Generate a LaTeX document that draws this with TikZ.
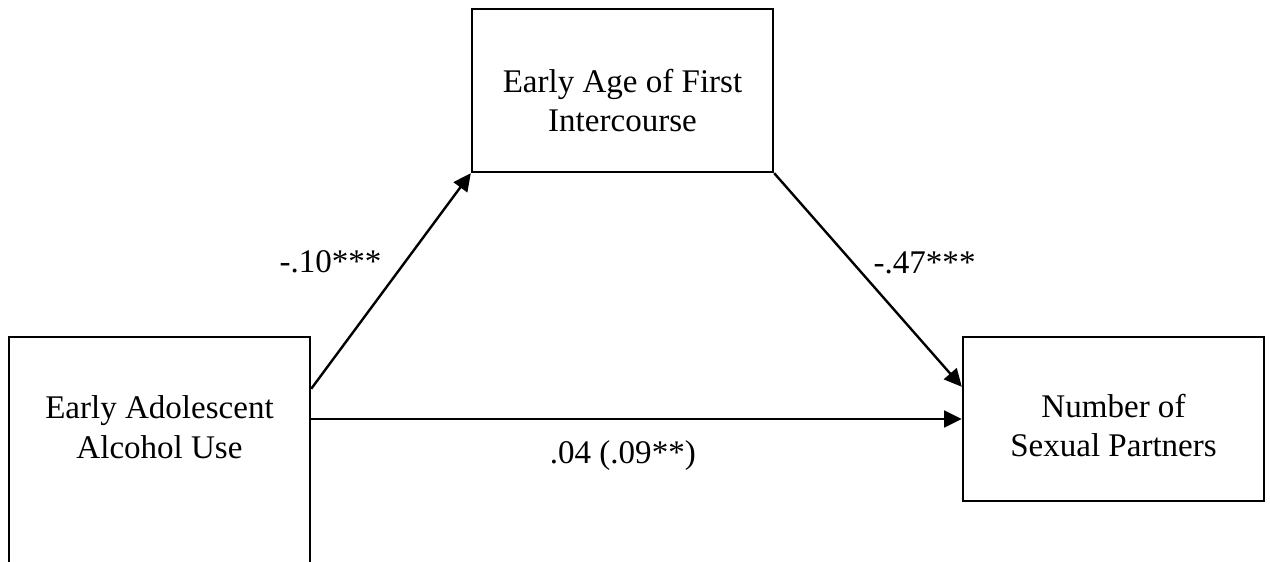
\documentclass[tikz,border=0pt]{standalone}
\usepackage{fontspec}
\setmainfont{Liberation Serif}
\usetikzlibrary{arrows.meta,positioning}

\begin{document}
\begin{tikzpicture}[
    varbox/.style={draw, line width=1.7pt, minimum width=7.525cm, align=center, font=\fontsize{23.5}{28}\selectfont},
    effect/.style={-{Triangle[length=0.44cm, width=0.42cm]}, line width=1.7pt},
    coef/.style={font=\fontsize{23.5}{28}\selectfont}]
  \useasboundingbox (0,0) rectangle (31.75,14.025);

  % Mediator node
  \node[varbox, minimum height=4.075cm, text height=2.075cm, text depth=0cm] (intercourse) at (15.5625,11.7625) {Early Age of First\\Intercourse};

  % Predictor node (runs off the bottom edge)
  \node[varbox, minimum height=6.1cm, text depth=1.6cm] (alcohol) at (3.9875,2.55) {Early Adolescent\\Alcohol Use};

  % Outcome node
  \node[varbox, minimum height=4.1cm, text height=1.9cm, text depth=0cm] (partners) at (27.8375,3.55) {Number of\\Sexual Partners};

  % Paths
  \draw[effect] ([yshift=-1.325cm]alcohol.north east) -- node[coef, pos=0.59, left=0.45cm] (apath) {-.10***} (intercourse.south west);
  \draw[effect] (intercourse.south east) -- node[coef, pos=0.42, right=0.37cm] (bpath) {-.47***} ([yshift=-1.275cm]partners.north west);
  \draw[effect] (alcohol.north east |- partners.west) -- node[coef, pos=0.479, below=0.4cm] (cpath) {.04 (.09**)} (partners.west);
\end{tikzpicture}
\end{document}
